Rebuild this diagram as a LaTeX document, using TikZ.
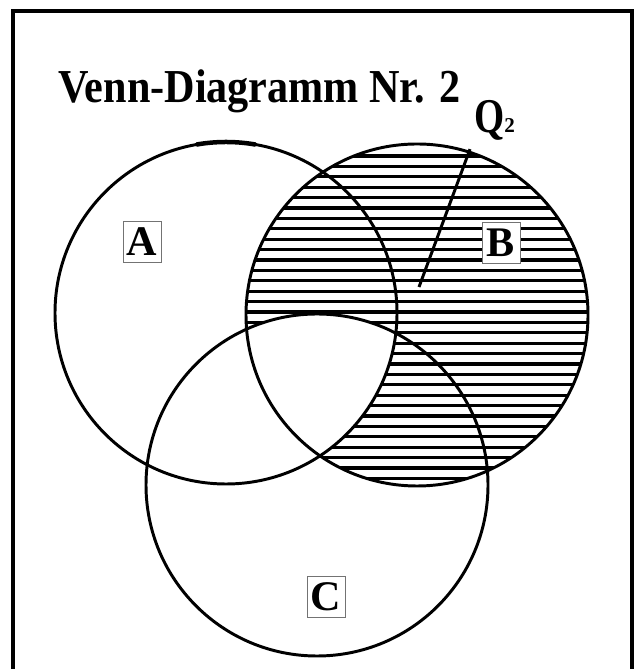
\documentclass[tikz,border=0pt]{standalone}
\usepackage{graphicx}
\usepackage{fontspec}
\setmainfont{Liberation Serif}
\begin{document}
\begin{tikzpicture}[
  ring/.style={line width=2.1pt},
  hatch/.style={line width=2.3pt},
  lbl/.style={draw=black!55, line width=0.6pt, fill=white, inner sep=0pt,
    minimum width=0.95cm, minimum height=1.025cm,
    font=\fontsize{30}{30}\selectfont\bfseries}]
\useasboundingbox (0,0) rectangle (16.075,16.725);
% frame, open at the bottom
\draw[line width=2.2pt] (0.325,-0.5) -- (0.325,16.45) -- (15.8,16.45) -- (15.8,-0.5);

\coordinate (ca) at (5.65,8.9);
\coordinate (cb) at (10.425,8.85);
\coordinate (cc) at (7.925,4.6);

% hatching of B
\begin{scope}
\clip (cb) circle (4.275);
\foreach \i in {0,...,31}
  \draw[hatch] (5.5,12.825-0.26*\i) -- (15.5,12.825-0.26*\i);
\end{scope}
% A and C together stay blank
\begin{scope}
\clip (ca) circle (4.275);
\fill[white] (cc) circle (4.275);
\end{scope}

\draw[ring] (ca) circle (4.275);
\draw[ring] (cb) circle (4.275);
\draw[ring] (cc) circle (4.275);
\draw[line width=3.2pt] ([shift={(80:4.275)}]ca) arc (80:100:4.275);

\node[anchor=base west, inner sep=0pt, font=\fontsize{30}{30}\selectfont\bfseries] (t) at (1.45,14.15) {\scalebox{1}[1.12]{Venn-Diagramm Nr. 2}};
\node[anchor=base west, inner sep=0pt, font=\fontsize{30}{30}\selectfont\bfseries] (q) at (11.85,13.4) {\scalebox{0.92}[1.15]{Q}{\fontsize{15}{15}\selectfont 2}};
\coordinate (p) at (10.475,9.55);
\draw[ring] ([xshift=-0.1cm,yshift=-0.2cm]q.south west) -- (p);

\node[lbl] (a) at (3.55,10.675) {A};
\node[lbl] (b) at (12.525,10.65) {B};
\node[lbl] (c) at (8.15,1.8) {C};
\end{tikzpicture}
\end{document}
